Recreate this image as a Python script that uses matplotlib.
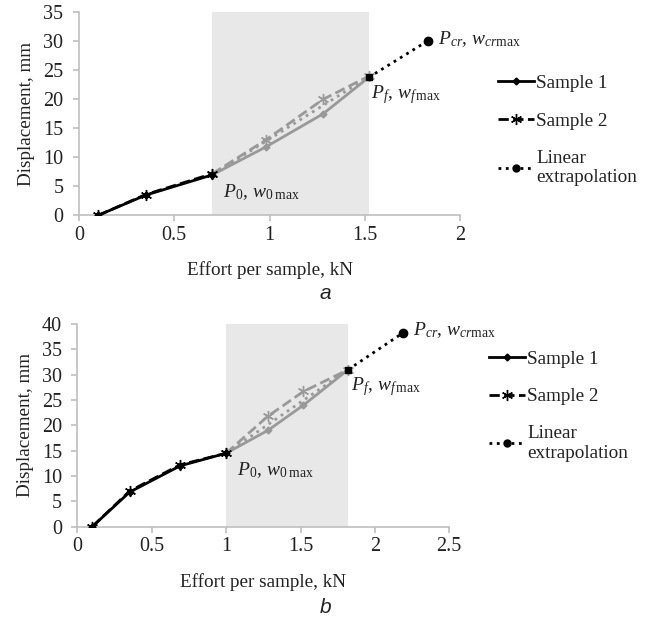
import matplotlib.pyplot as plt
from matplotlib.lines import Line2D

plt.rcParams['font.family'] = ['Liberation Serif', 'DejaVu Serif']
plt.rcParams['mathtext.fontset'] = 'custom'
plt.rcParams['mathtext.rm'] = 'Liberation Serif'
plt.rcParams['mathtext.it'] = 'Liberation Serif:italic'

# chart a
a_load = [0.1, 0.35, 0.7, 0.98, 1.28, 1.52]
a_s1 = [0, 3.5, 7.0, 11.8, 17.5, 23.8]
a_s2 = [0, 3.6, 7.2, 13.0, 20.0, 24.0]
a_lin_x = [0.7, 1.52]
a_lin_y = [7.0, 23.9]
a_ext_x = [1.52, 1.83]
a_ext_y = [23.8, 30.1]
a_zone = [0.7, 1.52]
a_split = 2  # index of P0

# chart b
b_load = [0.1, 0.35, 0.69, 1.0, 1.28, 1.52, 1.82]
b_s1 = [0, 6.8, 12.0, 14.5, 19.0, 24.0, 31.0]
b_s2 = [0, 7.0, 12.2, 14.5, 21.8, 26.7, 31.0]
b_lin_x = [1.0, 1.82]
b_lin_y = [14.5, 31.0]
b_ext_x = [1.82, 2.19]
b_ext_y = [31.0, 38.3]
b_zone = [1.0, 1.82]
b_split = 3

legend_labels = ['Sample 1', 'Sample 2', 'Linear\nextrapolation']

GRAY = '#999999'
ZONE = '#e8e8e8'
AX = '#bfbfbf'
TXT = '#222222'


def panel(ax, load, s1, s2, linx, liny, extx, exty, zone, k, xmax, ymax, leg_xy):
    ax.axvspan(zone[0], zone[1], color=ZONE, zorder=0, lw=0)
    ax.plot(load[:k + 1], s1[:k + 1], '-', color='black', lw=2, marker='D', ms=3.5, zorder=4)
    ax.plot(load[:k + 1], s2[:k + 1], '--', color='black', lw=2, marker=(6, 2, 0), ms=8, mew=1, zorder=4)
    ax.plot(load[k:], s1[k:], '-', color=GRAY, lw=2, marker='D', ms=3.5, zorder=3)
    ax.plot(load[k:], s2[k:], '--', color=GRAY, lw=2, marker=(6, 2, 0), ms=8, mew=1, zorder=3)
    ax.plot(linx, liny, ':', color=GRAY, lw=2, zorder=3)
    ax.plot(extx, exty, ':', color='black', lw=2, zorder=4)
    ax.plot(extx[-1], exty[-1], 'o', color='black', ms=6, zorder=5)
    ax.plot(extx[0], exty[0], 's', color='black', ms=4, zorder=5)

    ax.annotate(r'$P_0$, $w_{0\;\mathrm{max}}$', (load[k], s1[k]), xytext=(8, -16),
                textcoords='offset points', fontsize=14, color=TXT)
    ax.annotate(r'$P_f$, $w_{f\,\mathrm{max}}$', (extx[0], exty[0]), xytext=(2, -15),
                textcoords='offset points', fontsize=14, color=TXT)
    ax.annotate(r'$P_{cr}$, $w_{cr\mathrm{max}}$', (extx[1], exty[1]), xytext=(7, -2),
                textcoords='offset points', fontsize=14, color=TXT)

    ax.set_xlim(0, xmax)
    ax.set_ylim(0, ymax)
    n = int(round(xmax / 0.5))
    ax.set_xticks([i * 0.5 for i in range(n + 1)])
    ax.set_xticklabels([f'{i * 0.5:g}' for i in range(n + 1)])
    ax.set_yticks(range(0, ymax + 1, 5))
    for s in ['top', 'right']:
        ax.spines[s].set_visible(False)
    for s in ['left', 'bottom']:
        ax.spines[s].set_color(AX)
        ax.spines[s].set_linewidth(1.2)
    ax.tick_params(colors=AX, labelcolor=TXT, labelsize=14.5, length=4, width=1.2)
    ax.tick_params(axis='y', pad=7)
    ax.set_xlabel('Effort per sample, kN', fontsize=13.8, color=TXT, labelpad=12)
    ax.set_ylabel('Displacement, mm', fontsize=13.8, color=TXT, labelpad=6)

    handles = [
        Line2D([], [], color='black', lw=2, marker='D', ms=3.5),
        Line2D([], [], color='black', lw=2, ls='--', marker=(6, 2, 0), ms=8, mew=1),
        Line2D([], [], color='black', lw=2, ls=':', marker='o', ms=5),
    ]
    fig.legend(handles, legend_labels, loc='center left', bbox_to_anchor=leg_xy,
               frameon=False, borderpad=0, fontsize=13.8, handlelength=1.9,
               handletextpad=0.1, labelspacing=1.05, labelcolor=TXT)


fig = plt.figure(figsize=(6.51, 6.21), dpi=100)
ax1 = fig.add_axes([0.121, 0.653, 0.586, 0.327])
ax2 = fig.add_axes([0.119, 0.152, 0.571, 0.326])

panel(ax1, a_load, a_s1, a_s2, a_lin_x, a_lin_y, a_ext_x, a_ext_y, a_zone, a_split, 2, 35, (0.750, 0.790))
panel(ax2, b_load, b_s1, b_s2, b_lin_x, b_lin_y, b_ext_x, b_ext_y, b_zone, b_split, 2.5, 40, (0.736, 0.346))

fig.text(0.5, 0.528, 'a', fontsize=15, style='italic', family='Liberation Sans', ha='center', va='center', color=TXT)
fig.text(0.5, 0.021, 'b', fontsize=15, style='italic', family='Liberation Sans', ha='center', va='center', color=TXT)

fig.savefig('out.png', dpi=100)
